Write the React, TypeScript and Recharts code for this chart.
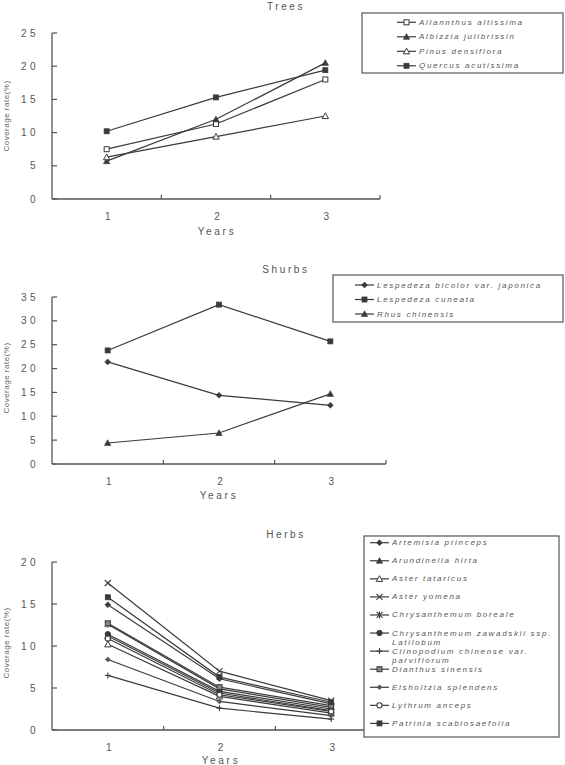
import React from "react";
import { LineChart, Line, XAxis, YAxis } from "recharts";

const FONT = '"Liberation Sans", Arial, sans-serif';
const INK = "#3a3a3a";
const TEXT = "#555";

const YEARS = [1, 2, 3];

// Trees
const AILANTHUS = [7.5, 11.3, 18.0];
const ALBIZZIA = [5.7, 12.0, 20.5];
const PINUS = [6.3, 9.4, 12.5];
const QUERCUS = [10.2, 15.3, 19.4];

// Shrubs
const LESPEDEZA_BICOLOR = [21.4, 14.4, 12.3];
const LESPEDEZA_CUNEATA = [23.8, 33.4, 25.7];
const RHUS = [4.4, 6.5, 14.7];

// Herbs
const ARTEMISIA = [14.9, 6.1, 3.1];
const ARUNDINELLA = [11.2, 4.4, 2.3];
const ASTER_TATARICUS = [10.2, 4.0, 2.0];
const ASTER_YOMENA = [17.5, 7.0, 3.5];
const CHRYS_BOREALE = [12.6, 4.9, 2.7];
const CHRYS_ZAWADSKII = [11.4, 4.6, 2.5];
const CLINOPODIUM = [6.5, 2.6, 1.3];
const DIANTHUS = [12.7, 5.1, 2.9];
const ELSHOLTZIA = [8.4, 3.4, 1.7];
const LYTHRUM = [10.9, 4.2, 2.2];
const PATRINIA = [15.8, 6.3, 3.3];

const TREE_TICKS = [0, 5, 10, 15, 20, 25];
const SHRUB_TICKS = [0, 5, 10, 15, 20, 25, 30, 35];
const HERB_TICKS = [0, 5, 10, 15, 20];
// integer ticks carry the year labels, half ticks mark the boundaries
const X_TICKS = [1, 1.5, 2, 2.5, 3, 3.5];

type MarkerKind =
  | "square" | "squareOpen" | "squareGray"
  | "triangle" | "triangleOpen"
  | "diamond" | "diamondSmall"
  | "circle" | "circleOpen"
  | "cross" | "star" | "plus";

interface Series {
  key: string;
  name: string[];
  values: number[];
  marker: MarkerKind;
}

const TREES: Series[] = [
  { key: "ailanthus", name: ["Ailannthus altissima"], values: AILANTHUS, marker: "squareOpen" },
  { key: "albizzia", name: ["Albizzia julibrissin"], values: ALBIZZIA, marker: "triangle" },
  { key: "pinus", name: ["Pinus densiflora"], values: PINUS, marker: "triangleOpen" },
  { key: "quercus", name: ["Quercus acutissima"], values: QUERCUS, marker: "square" },
];

const SHRUBS: Series[] = [
  { key: "bicolor", name: ["Lespedeza bicolor var. japonica"], values: LESPEDEZA_BICOLOR, marker: "diamond" },
  { key: "cuneata", name: ["Lespedeza cuneata"], values: LESPEDEZA_CUNEATA, marker: "square" },
  { key: "rhus", name: ["Rhus chinensis"], values: RHUS, marker: "triangle" },
];

const HERBS: Series[] = [
  { key: "artemisia", name: ["Artemisia princeps"], values: ARTEMISIA, marker: "diamond" },
  { key: "arundinella", name: ["Arundinella hirta"], values: ARUNDINELLA, marker: "triangle" },
  { key: "tataricus", name: ["Aster tataricus"], values: ASTER_TATARICUS, marker: "triangleOpen" },
  { key: "yomena", name: ["Aster yomena"], values: ASTER_YOMENA, marker: "cross" },
  { key: "boreale", name: ["Chrysanthemum boreale"], values: CHRYS_BOREALE, marker: "star" },
  { key: "zawadskii", name: ["Chrysanthemum zawadskii ssp.", "Latilobum"], values: CHRYS_ZAWADSKII, marker: "circle" },
  { key: "clinopodium", name: ["Clinopodium chinense var.", "parviflorum"], values: CLINOPODIUM, marker: "plus" },
  { key: "dianthus", name: ["Dianthus sinensis"], values: DIANTHUS, marker: "squareGray" },
  { key: "elsholtzia", name: ["Elsholtzia splendens"], values: ELSHOLTZIA, marker: "diamondSmall" },
  { key: "lythrum", name: ["Lythrum anceps"], values: LYTHRUM, marker: "circleOpen" },
  { key: "patrinia", name: ["Patrinia scabiosaefolia"], values: PATRINIA, marker: "square" },
];

function toRows(series: Series[]) {
  return YEARS.map((year, i) => {
    const row: Record<string, number> = { year };
    series.forEach((s) => (row[s.key] = s.values[i]));
    return row;
  });
}

function Marker({ kind, cx, cy }: { kind: MarkerKind; cx: number; cy: number }) {
  const s = 2.5;
  const t = 3.2;
  const tri = `${cx},${cy - t} ${cx - t},${cy + t * 0.8} ${cx + t},${cy + t * 0.8}`;
  const dia = (r: number) => `${cx},${cy - r} ${cx + r},${cy} ${cx},${cy + r} ${cx - r},${cy}`;
  switch (kind) {
    case "square":
      return <rect x={cx - s} y={cy - s} width={2 * s} height={2 * s} fill={INK} stroke={INK} strokeWidth={0.8} />;
    case "squareOpen":
      return <rect x={cx - s} y={cy - s} width={2 * s} height={2 * s} fill="#fff" stroke={INK} strokeWidth={1} />;
    case "squareGray":
      return <rect x={cx - s} y={cy - s} width={2 * s} height={2 * s} fill="#888" stroke={INK} strokeWidth={1} />;
    case "triangle":
      return <polygon points={tri} fill={INK} stroke={INK} strokeWidth={0.6} />;
    case "triangleOpen":
      return <polygon points={tri} fill="#fff" stroke={INK} strokeWidth={1} />;
    case "diamond":
      return <polygon points={dia(3)} fill={INK} stroke={INK} strokeWidth={0.5} />;
    case "diamondSmall":
      return <polygon points={dia(2.5)} fill="#555" stroke="#555" strokeWidth={0.5} />;
    case "circle":
      return <circle cx={cx} cy={cy} r={2.7} fill={INK} stroke={INK} />;
    case "circleOpen":
      return <circle cx={cx} cy={cy} r={2.6} fill="#fff" stroke={INK} strokeWidth={1.1} />;
    case "cross":
      return (
        <g stroke={INK} strokeWidth={1.1}>
          <line x1={cx - 3} y1={cy - 3} x2={cx + 3} y2={cy + 3} />
          <line x1={cx - 3} y1={cy + 3} x2={cx + 3} y2={cy - 3} />
        </g>
      );
    case "star":
      return (
        <g stroke={INK} strokeWidth={1.1}>
          <line x1={cx - 3} y1={cy - 3} x2={cx + 3} y2={cy + 3} />
          <line x1={cx - 3} y1={cy + 3} x2={cx + 3} y2={cy - 3} />
          <line x1={cx} y1={cy - 3.5} x2={cx} y2={cy + 3.5} />
        </g>
      );
    case "plus":
      return (
        <g stroke={INK} strokeWidth={1.1}>
          <line x1={cx - 3} y1={cy} x2={cx + 3} y2={cy} />
          <line x1={cx} y1={cy - 3} x2={cx} y2={cy + 3} />
        </g>
      );
  }
  return null;
}

// y ticks point into the plot, labels sit well left of the axis
function YTick(props: any) {
  const { x, y, payload } = props;
  return (
    <g>
      <line x1={x} x2={x + 5} y1={y} y2={y} stroke="#555" strokeWidth={1.2} />
      <text x={x - 13} y={y} textAnchor="end" dominantBaseline="central" fontFamily={FONT} fontSize={10} letterSpacing={3.5} fill={TEXT}>
        {payload.value}
      </text>
    </g>
  );
}

function XTick(props: any) {
  const { x, y, payload } = props;
  if (Number.isInteger(payload.value)) {
    return (
      <text x={x + 1} y={y + 17.5} textAnchor="middle" dominantBaseline="central" fontFamily={FONT} fontSize={10} fill={TEXT}>
        {payload.value}
      </text>
    );
  }
  return <line x1={x} x2={x} y1={y} y2={y - 4} stroke="#555" strokeWidth={1.2} />;
}

interface PanelProps {
  series: Series[];
  ticks: number[];
  plotTop: number;
  plotBottom: number;
  plotRight: number;
}

function Panel({ series, ticks, plotTop, plotBottom, plotRight }: PanelProps) {
  const top = plotTop - 20;
  const height = plotBottom - plotTop + 50;
  const width = plotRight + 5;
  return (
    <div style={{ position: "absolute", left: 0, top }}>
      <LineChart width={width} height={height} data={toRows(series)} margin={{ top: 20, right: 5, bottom: 0, left: 0 }}>
        <XAxis
          dataKey="year"
          type="number"
          domain={[0.5, 3.5]}
          ticks={X_TICKS}
          interval={0}
          height={30}
          tickSize={0}
          tickMargin={0}
          tickLine={false}
          axisLine={{ stroke: "#555", strokeWidth: 1.3 }}
          tick={<XTick />}
        />
        <YAxis
          type="number"
          domain={[ticks[0], ticks[ticks.length - 1]]}
          ticks={ticks}
          interval={0}
          width={52}
          tickSize={0}
          tickMargin={0}
          tickLine={false}
          axisLine={{ stroke: "#555", strokeWidth: 1.3 }}
          tick={<YTick />}
        />
        {series.map((s) => (
          <Line
            key={s.key}
            dataKey={s.key}
            type="linear"
            stroke={INK}
            strokeWidth={1.2}
            isAnimationActive={false}
            dot={(p: any) => <Marker key={`${s.key}-${p.index}`} kind={s.marker} cx={p.cx} cy={p.cy} />}
          />
        ))}
      </LineChart>
    </div>
  );
}

interface LegendProps {
  series: Series[];
  x: number;
  y: number;
  w: number;
  h: number;
  lineX: number;
  firstRow: number;
  step: number;
}

function LegendBox({ series, x, y, w, h, lineX, firstRow, step }: LegendProps) {
  return (
    <g>
      <rect x={x} y={y} width={w} height={h} fill="#fff" stroke="#555" strokeWidth={1.2} />
      {series.map((s, i) => {
        const ry = firstRow + i * step;
        return (
          <g key={s.key}>
            <line x1={lineX} x2={lineX + 19} y1={ry} y2={ry} stroke={INK} strokeWidth={1.2} />
            <Marker kind={s.marker} cx={lineX + 9.5} cy={ry} />
            {s.name.map((part, j) => (
              <text
                key={j}
                x={lineX + 22}
                y={ry + j * 9.5}
                dominantBaseline="central"
                fontFamily={FONT}
                fontSize={8}
                fontStyle="italic"
                letterSpacing={1.7}
                fill={TEXT}
              >
                {part}
              </text>
            ))}
          </g>
        );
      })}
    </g>
  );
}

function Titles({ title, titleY, yLabelY, yearsX, yearsY }: { title: string; titleY: number; yLabelY: number; yearsX: number; yearsY: number }) {
  return (
    <g fontFamily={FONT} fill={TEXT}>
      <text x={286} y={titleY} textAnchor="middle" dominantBaseline="central" fontSize={10} letterSpacing={2.6}>
        {title}
      </text>
      <text x={yearsX} y={yearsY} textAnchor="middle" dominantBaseline="central" fontSize={10} letterSpacing={2.7}>
        Years
      </text>
      <text
        x={6}
        y={yLabelY}
        transform={`rotate(-90 6 ${yLabelY})`}
        textAnchor="middle"
        dominantBaseline="central"
        fontSize={8}
        letterSpacing={0.5}
        fill="#666"
      >
        Coverage rate(%)
      </text>
    </g>
  );
}

export default function App() {
  return (
    <div style={{ position: "absolute", left: 0, top: 0, width: 565, height: 765, background: "#fff", overflow: "hidden" }}>
      <Panel series={TREES} ticks={TREE_TICKS} plotTop={33} plotBottom={199} plotRight={380} />
      <Panel series={SHRUBS} ticks={SHRUB_TICKS} plotTop={297} plotBottom={464} plotRight={386} />
      <Panel series={HERBS} ticks={HERB_TICKS} plotTop={562} plotBottom={730} plotRight={387} />

      <svg width={565} height={765} style={{ position: "absolute", left: 0, top: 0, pointerEvents: "none" }}>
        <Titles title="Trees" titleY={6} yLabelY={116} yearsX={217} yearsY={231.5} />
        <Titles title="Shurbs" titleY={269} yLabelY={378} yearsX={219} yearsY={495} />
        <Titles title="Herbs" titleY={534} yLabelY={643} yearsX={221} yearsY={760.5} />

        <LegendBox series={TREES} x={362} y={13} w={201} h={60} lineX={397} firstRow={22.3} step={14.5} />
        <LegendBox series={SHRUBS} x={333} y={275} w={230} h={47} lineX={355} firstRow={285} step={14.5} />
        <LegendBox series={HERBS} x={364} y={536} w={195} h={201} lineX={370} firstRow={542.7} step={18.07} />
      </svg>
    </div>
  );
}
